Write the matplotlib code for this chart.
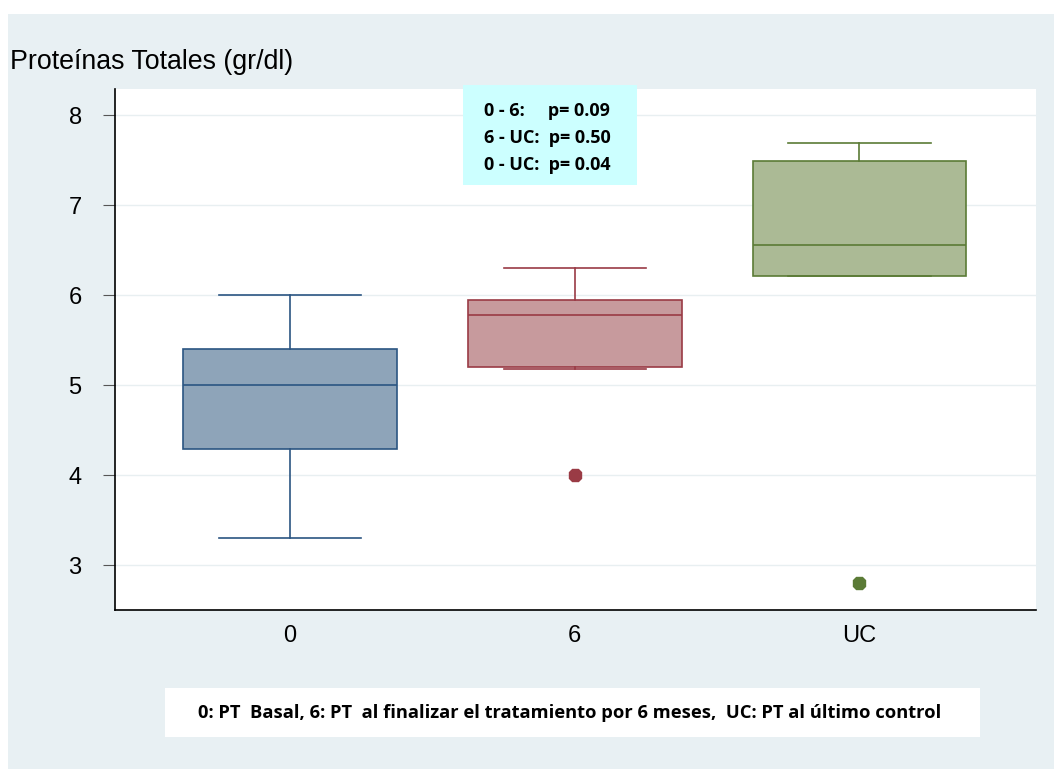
""" Boxplot de proteinas totales por control """

import matplotlib
matplotlib.use("Agg")
import matplotlib.pyplot as plt
from matplotlib.patches import Rectangle

# Data
groups = ["0", "6", "UC"]
whisker_low = [3.3, 5.18, 6.21]
q1 = [4.29, 5.2, 6.21]
median = [5.0, 5.78, 6.56]
q3 = [5.4, 5.95, 7.49]
whisker_high = [6.0, 6.3, 7.69]
outliers = [[], [4.0], [2.8]]

pvalue_lines = ["0 - 6:     p= 0.09", "6 - UC:  p= 0.50", "0 - UC:  p= 0.04"]
footnote = "0: PT  Basal, 6: PT  al finalizar el tratamiento por 6 meses,  UC: PT al último control"
ylabel = "Proteínas Totales (gr/dl)"

# Colors
fills = ["#8ea4b9", "#c79a9d", "#abba95"]
edges = ["#2b5582", "#9a3b45", "#5b7b36"]
BG = "#e8f0f3"

W, H = 1054, 769


def fig_box(x0, y0, x1, y1):
    """ Pixel box (top-left origin) to figure fraction """
    return x0 / W, 1 - y1 / H, (x1 - x0) / W, (y1 - y0) / H


def main():
    plt.rcParams["font.family"] = ["Liberation Sans", "DejaVu Sans"]
    fig = plt.figure(figsize=(W / 100, H / 100), dpi=100, facecolor="white")

    # Light background panel, drawn as an axes underneath everything
    bg = fig.add_axes(fig_box(8, 14, W, H), zorder=-10)
    bg.set_facecolor(BG)
    bg.set_axis_off()
    bg.add_patch(Rectangle((0, 0), 1, 1, transform=bg.transAxes,
                           facecolor=BG, edgecolor="none"))

    ax = fig.add_axes(fig_box(115, 89, 1036, 610), zorder=1)
    ax.set_facecolor("white")

    stats = []
    for i, g in enumerate(groups):
        stats.append(dict(label=g, whislo=whisker_low[i], q1=q1[i], med=median[i],
                          q3=q3[i], whishi=whisker_high[i], fliers=outliers[i]))

    positions = [1, 2, 3]
    for i, s in enumerate(stats):
        ax.bxp([s], positions=[positions[i]], widths=0.75, patch_artist=True,
               showfliers=True,
               boxprops=dict(facecolor=fills[i], edgecolor=edges[i], linewidth=1.2),
               medianprops=dict(color=edges[i], linewidth=1.2),
               whiskerprops=dict(color=edges[i], linewidth=1.2),
               capprops=dict(color=edges[i], linewidth=1.2),
               capwidths=0.5,
               flierprops=dict(marker="8", markerfacecolor=edges[i],
                               markeredgecolor=edges[i], markersize=9.5),
               zorder=3)

    ax.set_xlim(0.385, 3.62)
    ax.set_ylim(2.5, 8.29)
    ax.set_yticks([3, 4, 5, 6, 7, 8])
    ax.set_xticks(positions)
    ax.set_xticklabels(groups)
    ax.tick_params(axis="y", labelsize=17, length=9, width=0.8, color="#555555", pad=15)
    ax.tick_params(axis="x", labelsize=17, length=0, pad=11)
    ax.grid(axis="y", color="#e8eff1", linewidth=1, zorder=0)
    ax.set_axisbelow(True)

    for side in ["top", "right"]:
        ax.spines[side].set_visible(False)
    for side in ["left", "bottom"]:
        ax.spines[side].set_color("black")
        ax.spines[side].set_linewidth(1.2)

    fig.text(10 / W, 1 - 62 / H, ylabel, fontsize=19.3, va="center", ha="left")

    # p-value box
    x, y, w, h = fig_box(463, 85, 637, 185)
    fig.patches.append(Rectangle((x, y), w, h, transform=fig.transFigure,
                                 facecolor="#ccffff", edgecolor="none", zorder=5))
    for k, line in enumerate(pvalue_lines):
        fig.text(484 / W, 1 - (111 + k * 27) / H, line, fontsize=13, fontweight="bold",
                 family=["Open Sans", "DejaVu Sans"], va="center", ha="left", zorder=6)

    # Footnote box
    x, y, w, h = fig_box(165, 688, 980, 737)
    fig.patches.append(Rectangle((x, y), w, h, transform=fig.transFigure,
                                 facecolor="white", edgecolor="none", zorder=1))
    fig.text(570 / W, 1 - 713 / H, footnote, fontsize=13.2, fontweight="bold",
             family=["Open Sans", "DejaVu Sans"], va="center", ha="center", zorder=2)

    fig.savefig("out.png", dpi=100)


if __name__ == "__main__":
    main()
